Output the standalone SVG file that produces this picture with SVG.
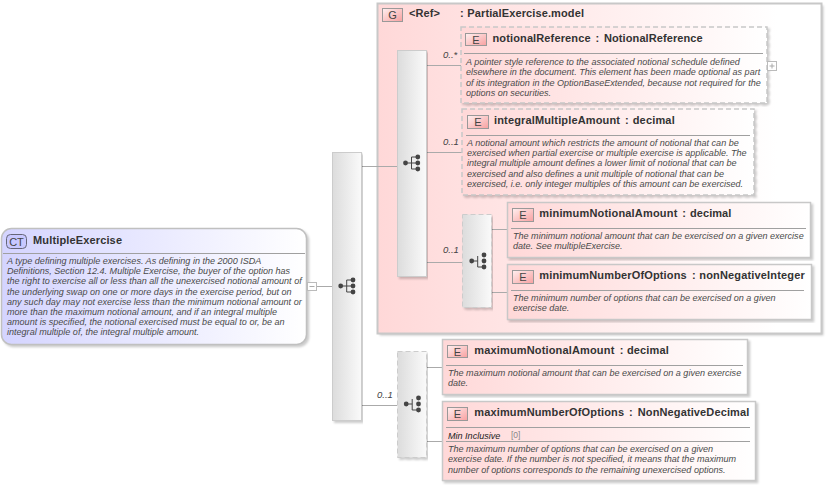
<svg xmlns="http://www.w3.org/2000/svg" width="826" height="489" viewBox="0 0 826 489">
<style>
text{font-family:"Liberation Sans",Arial,sans-serif;fill:#333}
.t{font-size:11px;font-weight:bold}
.d{font-size:9.05px;font-style:italic;fill:#4a4a4a}
.o{font-size:9.5px;font-style:italic;fill:#444}
.b{font-size:11px;fill:#444;text-anchor:middle}
.e{fill:url(#eg);stroke:#c8c8c8;stroke-width:1.5;filter:url(#s)}
.x{stroke-dasharray:5 3}
.g{fill:url(#cg);stroke:#ccc;filter:url(#s)}
.l{stroke:#aaa;stroke-width:1;fill:none}
.r{stroke:#a0a0a0;stroke-width:1}
.i{fill:url(#ig);stroke:#999}
</style>
<defs>
<filter id="s" x="-5%" y="-5%" width="110%" height="110%" color-interpolation-filters="sRGB"><feDropShadow dx="2" dy="2" stdDeviation="1" flood-color="#000" flood-opacity=".2"/></filter>
<filter id="b"><feGaussianBlur stdDeviation="1"/></filter>
<linearGradient id="eg"><stop offset="0" stop-color="#ffd8d8"/><stop offset="1" stop-color="#fff"/></linearGradient>
<linearGradient id="gg" gradientUnits="userSpaceOnUse" x1="377" y1="0" x2="822" y2="0"><stop offset="0" stop-color="#ffd8d8"/><stop offset=".9" stop-color="#fff"/></linearGradient>
<linearGradient id="cg"><stop offset="0" stop-color="#dcdcdc"/><stop offset="1" stop-color="#fafafa"/></linearGradient>
<linearGradient id="ctg"><stop offset="0" stop-color="#d4d4ff"/><stop offset="1" stop-color="#fff"/></linearGradient>
<linearGradient id="ig" x2="1" y2="1"><stop offset="0" stop-color="#fff0f0"/><stop offset="1" stop-color="#f8a0a0"/></linearGradient>
<symbol id="tree" overflow="visible">
<path d="M0 0H6M6 -6V6M6 -6H12M6 0H12M6 6H12" stroke="#444" fill="none"/>
<circle cx="0" cy="0" r="2.400" fill="#444"/><circle cx="12.300" cy="-6" r="2.400" fill="#444"/><circle cx="12.300" cy="0" r="2.400" fill="#444"/><circle cx="12.300" cy="6" r="2.400" fill="#444"/>
</symbol>
<symbol id="tree2" overflow="visible">
<path d="M0 0H6M6 -5V6H12" stroke="#444" fill="none"/>
<circle cx="0" cy="0" r="2.400" fill="#444"/><circle cx="12.300" cy="-6" r="2.400" fill="#444"/><circle cx="12.300" cy="0" r="2.400" fill="#444"/><circle cx="12.300" cy="6" r="2.400" fill="#444"/>
</symbol>
</defs>
<rect width="826" height="489" fill="#fff"/>

<g id="group-ref">
<rect x="379.500" y="5.500" width="444" height="330" fill="#000" opacity=".2" filter="url(#b)"/>
<rect x="377.500" y="3.500" width="444" height="330" fill="url(#gg)" stroke="#c8c8c8" stroke-width="2"/>
<rect x="382.500" y="8.500" width="20" height="13" class="i"/><text x="392.500" y="19" class="b">G</text>
<text x="409" y="17" class="t" textLength="31">&lt;Ref&gt;</text><text x="460" y="17" class="t">:</text><text x="467.300" y="17" class="t" textLength="116.700">PartialExercise.model</text>
</g>

<g id="connectors">
<path class="l" d="M317 286.500H332M362 166.500H397M362 405.500H397M427 65.500H461M427 152.500H462M427 262.500H462M492 229.500H507M492 292.500H507M427 367.500H442M427 441.500H442"/>
</g>

<g id="MultipleExercise">
<rect x="1.500" y="228.500" width="305" height="116" rx="10" fill="url(#ctg)" stroke="#c0c0c0" stroke-width="1.500" filter="url(#s)"/>
<rect x="6.500" y="234.500" width="20" height="14" rx="4" fill="#c8c8ff" stroke="#667"/><text x="16.500" y="245.500" class="b">CT</text>
<text x="33" y="244" class="t" textLength="89">MultipleExercise</text>
<path class="r" d="M3 253.500H305"/>
<text class="d"><tspan x="7" y="264">A type defining multiple exercises. As defining in the 2000 ISDA</tspan><tspan x="7" y="274.200">Definitions, Section 12.4. Multiple Exercise, the buyer of the option has</tspan><tspan x="7" y="284.400">the right to exercise all or less than all the unexercised notional amount of</tspan><tspan x="7" y="294.600">the underlying swap on one or more days in the exercise period, but on</tspan><tspan x="7" y="304.800">any such day may not exercise less than the minimum notional amount or</tspan><tspan x="7" y="315">more than the maximum notional amount, and if an integral multiple</tspan><tspan x="7" y="325.200">amount is specified, the notional exercised must be equal to or, be an</tspan><tspan x="7" y="335.400">integral multiple of, the integral multiple amount.</tspan></text>
<rect x="307.500" y="282.500" width="9" height="8" fill="#fff" stroke="#bbb"/><path class="l" d="M309.500 286.500H314.500"/>
</g>

<g id="seq-main"><rect x="332.500" y="152.500" width="29" height="268" class="g"/><use href="#tree" x="340.700" y="286"/></g>
<g id="seq-group"><rect x="397.500" y="50.500" width="29" height="226" class="g"/><use href="#tree" x="405.500" y="163"/></g>
<g id="seq-min"><rect x="462.500" y="214.500" width="29" height="93" class="g x"/><use href="#tree2" x="471.700" y="261"/></g>
<g id="seq-max"><rect x="397.500" y="351.500" width="29" height="106" class="g x"/><use href="#tree2" x="406.200" y="404"/></g>

<g id="labels">
<text x="443" y="58" class="o">0..*</text><text x="443" y="145" class="o">0..1</text><text x="443" y="253" class="o">0..1</text><text x="377" y="398" class="o">0..1</text>
</g>

<g id="notionalReference">
<rect x="461" y="27" width="306" height="76" class="e x"/>
<rect x="465.500" y="33.500" width="21" height="12" class="i"/><text x="476" y="44" class="b">E</text>
<text x="492.500" y="42" class="t" textLength="98">notionalReference</text><text x="595.500" y="42" class="t">:</text><text x="604" y="42" class="t" textLength="98.700">NotionalReference</text>
<path class="r" d="M464 53.500H763"/>
<text class="d"><tspan x="466" y="65">A pointer style reference to the associated notional schedule defined</tspan><tspan x="466" y="75.300">elsewhere in the document. This element has been made optional as part</tspan><tspan x="466" y="85.600">of its integration in the OptionBaseExtended, because not required for the</tspan><tspan x="466" y="95.900">options on securities.</tspan></text>
<rect x="767.500" y="61.500" width="9" height="9" fill="#fff" stroke="#bbb"/><path class="l" d="M769.500 66H774.500M772 63.500V68.500"/>
</g>

<g id="integralMultipleAmount">
<rect x="462" y="109" width="292" height="86" class="e x"/>
<rect x="467.500" y="115.500" width="21" height="13" class="i"/><text x="478" y="126" class="b">E</text>
<text x="494" y="124" class="t" textLength="126">integralMultipleAmount</text><text x="625" y="124" class="t">:</text><text x="632.700" y="124" class="t" textLength="42">decimal</text>
<path class="r" d="M466 135.500H750"/>
<text class="d"><tspan x="467" y="146">A notional amount which restricts the amount of notional that can be</tspan><tspan x="467" y="156.200">exercised when partial exercise or multiple exercise is applicable. The</tspan><tspan x="467" y="166.400">integral multiple amount defines a lower limit of notional that can be</tspan><tspan x="467" y="176.600">exercised and also defines a unit multiple of notional that can be</tspan><tspan x="467" y="186.800">exercised, i.e. only integer multiples of this amount can be exercised.</tspan></text>
</g>

<g id="minimumNotionalAmount">
<rect x="507.500" y="202.500" width="303" height="55" class="e"/>
<rect x="512.500" y="208.500" width="21" height="13" class="i"/><text x="523" y="219" class="b">E</text>
<text x="539.300" y="217" class="t" textLength="138">minimumNotionalAmount</text><text x="682.300" y="217" class="t">:</text><text x="690" y="217" class="t" textLength="41.300">decimal</text>
<path class="r" d="M511 228.500H806"/>
<text class="d"><tspan x="513" y="239">The minimum notional amount that can be exercised on a given exercise</tspan><tspan x="513" y="249.200">date. See multipleExercise.</tspan></text>
</g>

<g id="minimumNumberOfOptions">
<rect x="507.500" y="264.500" width="304" height="55" class="e"/>
<rect x="512.500" y="270.500" width="21" height="13" class="i"/><text x="523" y="281" class="b">E</text>
<text x="539.300" y="279" class="t" textLength="147.400">minimumNumberOfOptions</text><text x="692" y="279" class="t">:</text><text x="699.300" y="279" class="t" textLength="105.400">nonNegativeInteger</text>
<path class="r" d="M511 290.500H804"/>
<text class="d"><tspan x="513" y="301">The minimum number of options that can be exercised on a given</tspan><tspan x="513" y="311.200">exercise date.</tspan></text>
</g>

<g id="maximumNotionalAmount">
<rect x="442.500" y="339.500" width="305" height="55" class="e"/>
<rect x="447.500" y="345.500" width="20" height="12" class="i"/><text x="457.500" y="356" class="b">E</text>
<text x="474.300" y="354" class="t" textLength="140">maximumNotionalAmount</text><text x="619.700" y="354" class="t">:</text><text x="627" y="354" class="t" textLength="41.700">decimal</text>
<path class="r" d="M446 365.500H743"/>
<text class="d"><tspan x="448" y="376">The maximum notional amount that can be exercised on a given exercise</tspan><tspan x="448" y="386.200">date.</tspan></text>
</g>

<g id="maximumNumberOfOptions">
<rect x="442.500" y="401.500" width="313" height="79" class="e"/>
<rect x="447.500" y="407.500" width="20" height="13" class="i"/><text x="457.500" y="418" class="b">E</text>
<text x="474.300" y="416" class="t" textLength="149.700">maximumNumberOfOptions</text><text x="629" y="416" class="t">:</text><text x="637.700" y="416" class="t" textLength="111.600">NonNegativeDecimal</text>
<path class="r" d="M446 427.500H750M446 441.500H750"/>
<text x="448" y="439" class="d" style="fill:#222">Min Inclusive</text><text x="511" y="438" style="font-size:8.500px;fill:#888">[0]</text>
<text class="d"><tspan x="448" y="452">The maximum number of options that can be exercised on a given</tspan><tspan x="448" y="462.300">exercise date. If the number is not specified, it means that the maximum</tspan><tspan x="448" y="472.600">number of options corresponds to the remaining unexercised options.</tspan></text>
</g>
</svg>
